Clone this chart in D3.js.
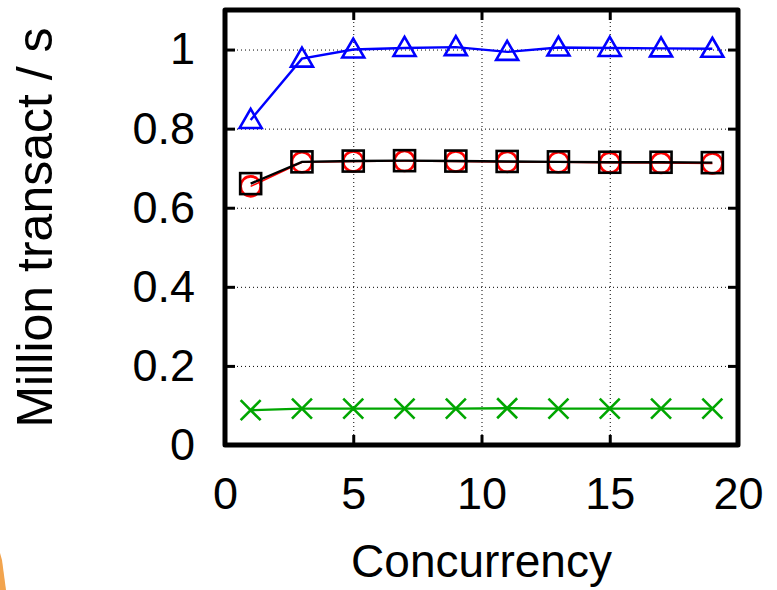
<!DOCTYPE html>
<html>
<head>
<meta charset="utf-8">
<script src="https://cdn.jsdelivr.net/npm/d3@7"></script>
<style>
  html, body { margin: 0; padding: 0; background: #fff; }
  svg { display: block; font-family: "Liberation Sans", Arial, sans-serif; }
</style>
</head>
<body>
<svg id="chart" width="777" height="590"></svg>
<script>
// concurrency levels
var concurrency = [1, 3, 5, 7, 9, 11, 13, 15, 17, 19];
// million transactions / s, per series
var blueTri   = [0.822, 0.977, 1.000, 1.004, 1.006, 0.994, 1.005, 1.004, 1.003, 1.002];
var blackSq   = [0.661, 0.716, 0.718, 0.719, 0.718, 0.717, 0.716, 0.715, 0.715, 0.714];
var redCirc   = [0.654, 0.715, 0.717, 0.718, 0.717, 0.716, 0.715, 0.714, 0.713, 0.712];
var greenX    = [0.088, 0.092, 0.092, 0.092, 0.092, 0.093, 0.092, 0.092, 0.092, 0.092];
var xTicks = [0, 5, 10, 15, 20];
var yTicks = [0, 0.2, 0.4, 0.6, 0.8, 1];

var plotL = 225, plotR = 738, plotT = 10, plotB = 445;
var svg = d3.select("#chart");

// stray orange edge of a neighbouring figure
svg.append("path")
    .attr("d", "M0,553 L2,560 L6,590 L0,590 Z")
    .attr("fill", "#f2a44e");

var x = d3.scaleLinear().domain([0, 20]).range([plotL, plotR]);
var y = d3.scaleLinear().domain([0, 1.1]).range([plotB, plotT]);
var fmt = function(d){ return String(+d.toFixed(1)); };

// grid
var grid = svg.append("g").attr("stroke", "#000").attr("stroke-width", 1).attr("stroke-dasharray", "1,3");
grid.selectAll(".gy").data(yTicks.filter(function(d){ return d > 0; })).enter().append("line")
    .attr("x1", plotL).attr("x2", plotR).attr("y1", function(d){ return y(d) + 0.5; }).attr("y2", function(d){ return y(d) + 0.5; });
grid.selectAll(".gx").data([5, 10, 15]).enter().append("line")
    .attr("y1", plotT).attr("y2", plotB).attr("x1", function(d){ return x(d) + 0.5; }).attr("x2", function(d){ return x(d) + 0.5; });

// inward tick marks on all four sides
function ticks(g){ g.selectAll("text").remove(); g.select(".domain").remove(); g.selectAll("line").attr("stroke-width", 3); }
svg.append("g").attr("transform", "translate(0," + plotB + ")")
    .call(d3.axisBottom(x).tickValues(xTicks).tickSize(-10)).call(ticks);
svg.append("g").attr("transform", "translate(0," + plotT + ")")
    .call(d3.axisTop(x).tickValues(xTicks).tickSize(-10)).call(ticks);
svg.append("g").attr("transform", "translate(" + plotL + ",0)")
    .call(d3.axisLeft(y).tickValues(yTicks).tickSize(-10)).call(ticks);
svg.append("g").attr("transform", "translate(" + plotR + ",0)")
    .call(d3.axisRight(y).tickValues(yTicks).tickSize(-10)).call(ticks);

// tick labels
var xa = svg.append("g").attr("transform", "translate(0," + plotB + ")")
    .call(d3.axisBottom(x).tickValues(xTicks).tickFormat(fmt).tickSize(0).tickPadding(32));
xa.select(".domain").remove();
xa.selectAll("text").attr("font-size", 45).attr("font-family", "Liberation Sans, Arial, sans-serif").attr("fill", "#000");

var ya = svg.append("g").attr("transform", "translate(" + plotL + ",0)")
    .call(d3.axisLeft(y).tickValues(yTicks).tickFormat(fmt).tickSize(0).tickPadding(30));
ya.select(".domain").remove();
ya.selectAll("text").attr("font-size", 45).attr("font-family", "Liberation Sans, Arial, sans-serif").attr("fill", "#000");

// axis titles
svg.append("text").attr("x", (plotL + plotR) / 2).attr("y", 577)
    .attr("text-anchor", "middle").attr("font-size", 46).text("Concurrency");
svg.append("text").attr("transform", "translate(52," + ((plotT + plotB) / 2) + ") rotate(-90)")
    .attr("text-anchor", "middle").attr("font-size", 50).text("Million transact / s");

// series
function series(vals, color, width, marker){
    var pts = concurrency.map(function(c, i){ return [c, vals[i]]; });
    var line = d3.line().x(function(d){ return x(d[0]); }).y(function(d){ return y(d[1]); });
    svg.append("path").datum(pts).attr("d", line).attr("fill", "none")
        .attr("stroke", color).attr("stroke-width", width);
    var g = svg.append("g").attr("fill", "none").attr("stroke", color).attr("stroke-width", 2.6);
    pts.forEach(function(d){
        var px = x(d[0]), py = y(d[1]);
        if (marker === "tri") {
            g.append("path").attr("d", "M" + px + "," + (py - 11) + " L" + (px + 11) + "," + (py + 8) + " L" + (px - 11) + "," + (py + 8) + " Z");
        } else if (marker === "sq") {
            g.append("rect").attr("x", px - 10.5).attr("y", py - 10.5).attr("width", 21).attr("height", 21);
        } else if (marker === "circ") {
            g.append("circle").attr("cx", px).attr("cy", py).attr("r", 10);
        } else {
            g.append("path").attr("d", "M" + (px - 10) + "," + (py - 10) + " L" + (px + 10) + "," + (py + 10) + " M" + (px - 10) + "," + (py + 10) + " L" + (px + 10) + "," + (py - 10));
        }
    });
}
series(greenX, "#00a600", 2.4, "x");
series(redCirc, "#ff0000", 1.6, "circ");
series(blackSq, "#000000", 2.4, "sq");
series(blueTri, "#0000ff", 2.4, "tri");

// frame
svg.append("rect").attr("x", plotL).attr("y", plotT).attr("width", plotR - plotL).attr("height", plotB - plotT)
    .attr("fill", "none").attr("stroke", "#000").attr("stroke-width", 5).attr("stroke-linejoin", "round");
</script>
</body>
</html>
